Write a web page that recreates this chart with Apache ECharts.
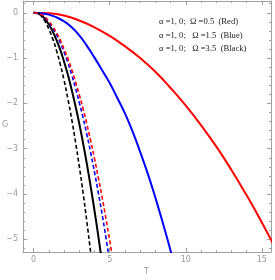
<!DOCTYPE html>
<html><head><meta charset="utf-8">
<script src="https://cdn.jsdelivr.net/npm/echarts@6/dist/echarts.min.js"></script>
<style>html,body{margin:0;padding:0;background:#fff}#c{width:275px;height:280px}</style>
</head><body><div id="c"></div>
<script>
// Data
const tShort = [0,0.25,0.5,0.75,1,1.25,1.5,1.75,2,2.25,2.5,2.75,3,3.25,3.5,3.75,4,4.25,4.5,4.75,5,5.25];
const gBlackDashed = [0,-0.01,-0.07,-0.19,-0.36,-0.57,-0.83,-1.14,-1.49,-1.9,-2.35,-2.85,-3.39,-3.98,-4.62,-5.3,-6.03];
const gBlackSolid = [0,-0.01,-0.05,-0.14,-0.26,-0.41,-0.6,-0.82,-1.08,-1.37,-1.7,-2.06,-2.45,-2.88,-3.34,-3.84,-4.37,-4.93,-5.52];
const gBlueDashed = [0,-0.01,-0.04,-0.11,-0.21,-0.33,-0.48,-0.66,-0.87,-1.1,-1.37,-1.66,-1.98,-2.32,-2.69,-3.09,-3.52,-3.97,-4.45,-4.96,-5.5,-6.06];
const gRedDashed = [0,-0.01,-0.04,-0.1,-0.19,-0.3,-0.44,-0.6,-0.8,-1.01,-1.25,-1.52,-1.81,-2.12,-2.46,-2.83,-3.22,-3.64,-4.07,-4.54,-5.03,-5.55];
const tBlue = [0,0.5,1,1.5,2,2.5,3,3.5,4,4.5,5,5.5,6,6.5,7,7.5,8,8.5,9,9.5];
const gBlueSolid = [0,-0.01,-0.04,-0.1,-0.19,-0.32,-0.5,-0.73,-0.99,-1.27,-1.55,-1.88,-2.22,-2.62,-3.07,-3.55,-4.08,-4.65,-5.25,-5.9];
const tRed = [0,1,2,3,4,5,6,7,8,9,10,11,12,13,14,15,16];
const gRedSolid = [0,-0.01,-0.06,-0.17,-0.32,-0.51,-0.74,-1.0,-1.3,-1.66,-2.05,-2.48,-2.95,-3.47,-4.03,-4.63,-5.27];
const xMajor = [0,5,10,15];
const xMinor = [1,2,3,4,6,7,8,9,11,12,13,14];
const yMajor = [0,-1,-2,-3,-4,-5];
const yMinor = [0.2,-0.2,-0.4,-0.6,-0.8,-1.2,-1.4,-1.6,-1.8,-2.2,-2.4,-2.6,-2.8,-3.2,-3.4,-3.6,-3.8,-4.2,-4.4,-4.6,-4.8,-5.2];
const legendLines = ['α =1, 0;  Ω =0.5  (Red)','α =1, 0;   Ω =1.5  (Blue)','α =1, 0;   Ω =3.5  (Black)'];

const pairs = (t,g)=>g.map((v,i)=>[t[i],v]);
const frame = '#a0a0a0';
const lblColor = '#999';
function ax(pos, major, isX, showLine, showLabel){
  return {
    type:'value', position:pos,
    min: isX ? -0.7 : -5.28, max: isX ? 15.6 : 0.26,
    axisLine:{show:showLine, onZero:false, lineStyle:{color:frame,width:1}},
    axisTick:{show:true, inside:true, length: major?4:2, customValues: isX ? (major?xMajor:xMinor) : (major?yMajor:yMinor), lineStyle:{color:frame,width:1}},
    axisLabel:{show:showLabel, customValues: isX ? xMajor : yMajor, color:lblColor, fontSize:8, fontFamily:'DejaVu Sans', margin: isX?4:5,
      formatter:v=>String(v).replace('-','\u2212')},
    splitLine:{show:false}
  };
}
const chart = echarts.init(document.getElementById('c'), null, {renderer:'canvas'});
const ls = (c,w,dash)=>({color:c,width:w,type:dash?[4,2.5]:'solid'});
const mk = (data,c,w,dash)=>({type:'line', data, smooth:true, showSymbol:false, symbol:'none', lineStyle:ls(c,w,dash), itemStyle:{color:c}, clip:true, animation:false, xAxisIndex:0, yAxisIndex:0});
chart.setOption({
  animation:false,
  grid:{left:23, right:4, top:1, bottom:28, containLabel:false},
  xAxis:[ax('bottom',true,true,true,true), ax('bottom',false,true,false,false), ax('top',true,true,true,false), ax('top',false,true,false,false)],
  yAxis:[ax('left',true,false,true,true), ax('left',false,false,false,false), ax('right',true,false,true,false), ax('right',false,false,false,false)],
  series:[
    mk(pairs(tRed,gRedSolid),'#ff0000',2,false),
    mk(pairs(tBlue,gBlueSolid),'#0000ff',2,false),
    mk(pairs(tShort,gBlackSolid),'#000000',2,false),
    mk(pairs(tShort,gBlackDashed),'#000000',1.6,true),
    mk(pairs(tShort,gBlueDashed),'#0000ff',1.6,true),
    mk(pairs(tShort,gRedDashed),'#ff0000',1.6,true)
  ],
  graphic:[
    {type:'text', left:2, top:121, style:{text:'G', fill:lblColor, font:'8px DejaVu Sans'}},
    {type:'text', left:144, top:268, style:{text:'T', fill:lblColor, font:'8px DejaVu Sans'}},
    ...legendLines.map((s,i)=>({type:'text', left:159, top:17.5+i*13.3, style:{text:s, fill:'#222', font:'8.6px "Liberation Serif"'}}))
  ]
});
</script></body></html>
